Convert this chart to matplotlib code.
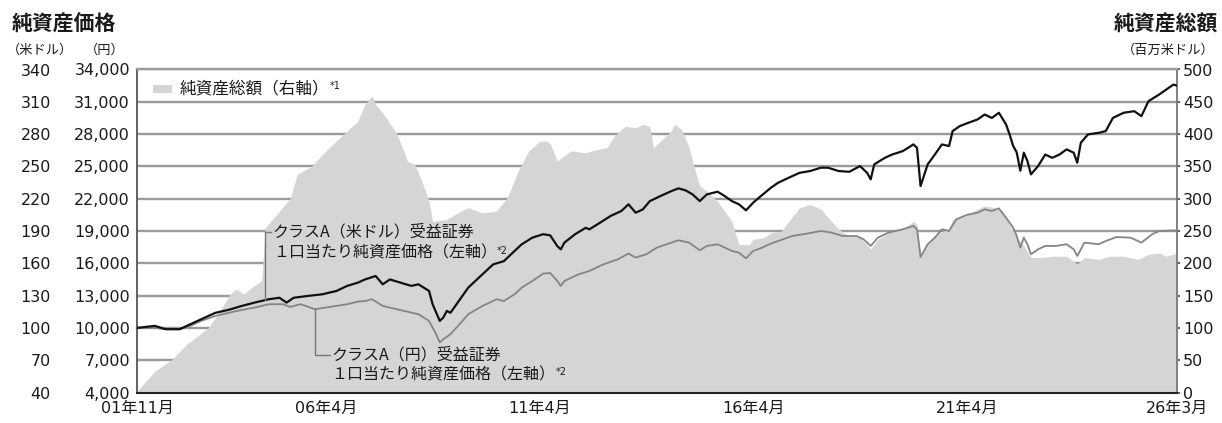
import matplotlib
matplotlib.use('Agg')
import matplotlib.pyplot as plt
import numpy as np
from matplotlib.transforms import IdentityTransform
from matplotlib.patches import Rectangle

CJK = ['Noto Sans CJK JP', 'DejaVu Sans']
NUM = ['DejaVu Sans', 'Noto Sans CJK JP']
plt.rcParams['font.family'] = CJK

# ---------------- data ----------------
tick_dates = ['2001-11', '2006-04', '2011-04', '2016-04', '2021-04', '2026-03']
tick_labels = ['01年11月', '06年4月', '11年4月', '16年4月', '21年4月', '26年3月']

usd_left_ticks = list(range(40, 341, 30))
jpy_left_ticks = list(range(4000, 34001, 3000))
right_ticks = list(range(0, 501, 50))

usd_dates = ['2001-11', '2002-04', '2002-07', '2002-11', '2003-02', '2003-05', '2003-09', '2004-01',
             '2004-04', '2004-08', '2004-12', '2005-03', '2005-05', '2005-07', '2005-11', '2006-03',
             '2006-07', '2006-10', '2007-01', '2007-03', '2007-06', '2007-08', '2007-10', '2008-01',
             '2008-04', '2008-06', '2008-09', '2008-10', '2008-12', '2009-01', '2009-02', '2009-03',
             '2009-06', '2009-08', '2009-12', '2010-03', '2010-06', '2010-09', '2010-11', '2011-02',
             '2011-05', '2011-07', '2011-09', '2011-10', '2011-11', '2012-02', '2012-05', '2012-06',
             '2012-09', '2012-12', '2013-03', '2013-05', '2013-07', '2013-09', '2013-11', '2014-02',
             '2014-05', '2014-07', '2014-09', '2014-11', '2015-01', '2015-03', '2015-06', '2015-08',
             '2015-10', '2015-12', '2016-02', '2016-04', '2016-06', '2016-09', '2016-11', '2017-02',
             '2017-05', '2017-08', '2017-11', '2018-01', '2018-04', '2018-07', '2018-10', '2018-12',
             '2019-01', '2019-02', '2019-05', '2019-07', '2019-10', '2020-01', '2020-02', '2020-03',
             '2020-05', '2020-07', '2020-09', '2020-11', '2020-12', '2021-02', '2021-04', '2021-07',
             '2021-09', '2021-11', '2022-01', '2022-03', '2022-04', '2022-05', '2022-06', '2022-07',
             '2022-08', '2022-09', '2022-10', '2022-12', '2023-02', '2023-04', '2023-06', '2023-08',
             '2023-10', '2023-11', '2023-12', '2024-02', '2024-05', '2024-07', '2024-09', '2024-12',
             '2025-03', '2025-05', '2025-07', '2025-10', '2025-12', '2026-02', '2026-03']
usd_nav = [100, 101.9, 98.8, 98.8, 103.4, 108, 114, 117,
           120, 123.5, 126.6, 128, 123.5, 128, 129.7, 131.2,
           134.3, 139, 142, 145, 148.2, 140.5, 145, 142,
           139, 140.5, 134.3, 122, 106.5, 109.6, 115.8, 114,
           128, 137.4, 149.8, 159, 162, 171.4, 177.6, 183.8,
           187, 186, 176, 173, 179.2, 187, 193, 191.5,
           197.7, 204, 208.6, 214.8, 207, 210, 217.8, 222.5,
           227, 229.6, 227.8, 224, 217.8, 224, 226.5, 222.5,
           217.8, 214.8, 209.2, 216.3, 222, 230.2, 234.8, 239.5,
           244, 245.7, 248.8, 248.8, 245.7, 245, 250.3, 244,
           238, 251.9, 258, 261, 264.2, 270.4, 267.3, 231.8,
           251.9, 261, 270.4, 268.9, 282.8, 287.4, 290, 293.6,
           298.2, 295, 299.8, 289, 279.7, 269, 263, 246,
           262.7, 255, 242.6, 250.3, 261, 258, 261, 265.8,
           262.7, 253.4, 272, 279.7, 281.2, 282.8, 295, 299.8,
           301.3, 296.7, 310.6, 316.8, 321.4, 326, 325]

jpy_dates = ['2001-11', '2002-04', '2002-07', '2002-11', '2003-02', '2003-05', '2003-09', '2004-01',
             '2004-04', '2004-08', '2004-12', '2005-04', '2005-06', '2005-09', '2006-01', '2006-04',
             '2006-10', '2007-01', '2007-03', '2007-05', '2007-08', '2007-12', '2008-04', '2008-06',
             '2008-09', '2008-11', '2008-12', '2009-01', '2009-03', '2009-06', '2009-08', '2009-12',
             '2010-04', '2010-06', '2010-09', '2010-11', '2011-02', '2011-05', '2011-07', '2011-09',
             '2011-10', '2011-11', '2012-03', '2012-06', '2012-10', '2013-02', '2013-05', '2013-07',
             '2013-10', '2014-01', '2014-05', '2014-07', '2014-10', '2015-01', '2015-03', '2015-06',
             '2015-10', '2015-12', '2016-02', '2016-04', '2016-06', '2016-09', '2016-11', '2017-03',
             '2017-07', '2017-11', '2018-02', '2018-05', '2018-09', '2018-11', '2019-01', '2019-03',
             '2019-06', '2019-10', '2020-01', '2020-02', '2020-03', '2020-05', '2020-07', '2020-09',
             '2020-11', '2021-01', '2021-04', '2021-07', '2021-09', '2021-11', '2022-01', '2022-03',
             '2022-05', '2022-06', '2022-07', '2022-08', '2022-09', '2022-10', '2022-12', '2023-02',
             '2023-05', '2023-08', '2023-10', '2023-11', '2024-01', '2024-05', '2024-07', '2024-10',
             '2025-02', '2025-05', '2025-08', '2025-10', '2026-03']
jpy_nav = [10000, 10000, 9880, 9880, 10190, 10650, 11110, 11420,
           11640, 11890, 12200, 12200, 11950, 12200, 11730, 11890,
           12200, 12440, 12500, 12660, 12040, 11730, 11420, 11270,
           10650, 9410, 8640, 8950, 9410, 10500, 11270, 12040,
           12660, 12500, 13120, 13740, 14360, 15040, 15100, 14360,
           13900, 14360, 14980, 15290, 15910, 16370, 16900, 16530,
           16840, 17460, 17920, 18140, 17920, 17210, 17610, 17770,
           17150, 16990, 16460, 17150, 17380, 17830, 18070, 18540,
           18750, 19000, 18850, 18540, 18540, 18230, 17610, 18380,
           18850, 19160, 19470, 19160, 16590, 17770, 18380, 19160,
           19000, 20080, 20500, 20700, 21010, 20860, 21100, 20240,
           19310, 18540, 17460, 18380, 17770, 16840, 17300, 17610,
           17610, 17770, 17300, 16680, 17920, 17770, 18070, 18440,
           18380, 17920, 18690, 19000, 19060]

net_dates = ['2001-11', '2002-04', '2002-09', '2003-01', '2003-07', '2003-10', '2004-01', '2004-02',
             '2004-03', '2004-05', '2004-07', '2004-10', '2004-11', '2005-06', '2005-08', '2005-12',
             '2006-04', '2006-09', '2007-01', '2007-03', '2007-05', '2007-06', '2007-09', '2007-12',
             '2008-03', '2008-05', '2008-07', '2008-09', '2008-10', '2009-02', '2009-06', '2009-08',
             '2009-12', '2010-04', '2010-07', '2010-10', '2011-01', '2011-04', '2011-06', '2011-07',
             '2011-09', '2011-10', '2012-01', '2012-05', '2012-08', '2012-11', '2013-01', '2013-04',
             '2013-07', '2013-09', '2013-11', '2013-12', '2014-02', '2014-05', '2014-06', '2014-08',
             '2014-10', '2014-12', '2015-01', '2015-03', '2015-06', '2015-10', '2015-12', '2016-03',
             '2016-04', '2016-07', '2016-09', '2016-12', '2017-02', '2017-05', '2017-08', '2017-11',
             '2018-01', '2018-04', '2018-06', '2018-10', '2019-01', '2019-03', '2019-06', '2019-10',
             '2020-01', '2020-02', '2020-03', '2020-05', '2020-08', '2020-11', '2020-12', '2021-04',
             '2021-07', '2021-09', '2021-12', '2022-02', '2022-04', '2022-06', '2022-08', '2022-10',
             '2023-01', '2023-04', '2023-08', '2023-11', '2024-01', '2024-05', '2024-08', '2024-12',
             '2025-04', '2025-07', '2025-10', '2025-12', '2026-03']
net_assets = [2, 33, 52, 75, 100, 124, 151, 157,
              160, 152, 162, 173, 255, 300, 338, 350,
              374, 400, 420, 446, 459, 446, 425, 400,
              358, 353, 327, 296, 265, 268, 281, 286,
              278, 281, 302, 343, 374, 389, 389, 385,
              358, 363, 374, 371, 376, 379, 397, 412,
              410, 415, 412, 379, 389, 405, 415, 407,
              379, 338, 320, 312, 296, 265, 229, 229,
              237, 240, 247, 250, 265, 286, 291, 284,
              271, 253, 245, 240, 222, 237, 247, 253,
              265, 260, 214, 232, 247, 253, 268, 275,
              284, 289, 286, 281, 260, 240, 227, 209,
              209, 211, 211, 199, 209, 206, 211, 211,
              206, 214, 216, 211, 216]


def month_index(s):
    y, m = map(int, s.split('-'))
    return (y * 12 + m - 1) - (2001 * 12 + 10)


W, H = 1222, 423
fig = plt.figure(figsize=(W / 100, H / 100), dpi=100)
L, R, T, B = 137, 1177, 69.5, 392.5
rect = [L / W, (H - B) / H, (R - L) / W, (B - T) / H]

GRID = '#9a9a9a'
FILL = '#d5d5d5'
TXT = '#1a1a1a'

# base axis: net assets (right axis) + gridlines
ax = fig.add_axes(rect)
xs_net = [month_index(d) for d in net_dates]
xmax = month_index(tick_dates[-1])
ax.set_xlim(0, xmax)
ax.set_ylim(0, 500)
ax.set_axisbelow(True)
ax.yaxis.grid(True, color=GRID, lw=1.7)
ax.fill_between(xs_net, 0, net_assets, color=FILL, lw=0, zorder=1)
ax.set_xticks([month_index(d) for d in tick_dates], tick_labels, fontfamily=NUM, fontsize=11.5, color=TXT)
ax.tick_params(axis='x', length=0, pad=6)
ax.spines['top'].set_color(GRID)
ax.spines['top'].set_linewidth(1.7)
ax.spines['bottom'].set_color('#222')
ax.spines['bottom'].set_linewidth(1.5)
ax.spines['left'].set_color('#555')
ax.spines['left'].set_linewidth(1.3)
ax.spines['right'].set_color('#777')
ax.spines['right'].set_linewidth(1.3)

# JPY axis (gray line)
ax_j = ax.twinx()
ax_j.set_ylim(4000, 34000)
ax_j.yaxis.tick_left()
ax_j.set_yticks(jpy_left_ticks, [f'{v:,}' for v in jpy_left_ticks], fontfamily=NUM, fontsize=11.5, color=TXT)
ax_j.tick_params(axis='y', length=0, pad=5)
for s in ax_j.spines.values():
    s.set_visible(False)
xs_j = [month_index(d) for d in jpy_dates]
ax_j.plot(xs_j, jpy_nav, color='#858585', lw=1.3, zorder=3)

# USD axis (black line)
ax_u = ax.twinx()
ax_u.set_ylim(40, 340)
ax_u.yaxis.tick_left()
ax_u.set_yticks(usd_left_ticks, [str(v) for v in usd_left_ticks], fontfamily=NUM, fontsize=11.5, color=TXT)
ax_u.tick_params(axis='y', length=0, pad=62)
for s in ax_u.spines.values():
    s.set_visible(False)
xs_u = [month_index(d) for d in usd_dates]
ax_u.plot(xs_u, usd_nav, color='#111', lw=1.6, zorder=4)

# right axis of the base (set after twinx, which moves ticks left)
ax.yaxis.tick_right()
ax.set_yticks(right_ticks, [str(v) for v in right_ticks], fontfamily=NUM, fontsize=11.5, color=TXT)
ax.tick_params(axis='y', which='both', left=False, labelleft=False, right=True, labelright=True,
               direction='out', length=2.5, width=1.2, color='#444', pad=2)

# annotations (leaders)
lead_c = '#777'
mu = 36
yu0 = float(np.interp(mu, xs_u, usd_nav))
ax_u.plot([mu, mu, mu + 1.6], [yu0, 189, 189], color=lead_c, lw=1.0, zorder=5)
t_u1 = ax_u.text(mu + 2.1, 189, 'クラスA（米ドル）受益証券', fontsize=11.5, va='center', ha='left', color=TXT, zorder=6)
t_u2 = ax_u.text(mu + 2.1, 169.5, '１口当たり純資産価格（左軸）', fontsize=11.5, va='center', ha='left', color=TXT, zorder=6)

mj = 50
yj0 = float(np.interp(mj, xs_j, jpy_nav))
ax_j.plot([mj, mj, mj + 4.2], [yj0, 7480, 7480], color=lead_c, lw=1.0, zorder=5)
t_j1 = ax_j.text(mj + 4.5, 7480, 'クラスA（円）受益証券', fontsize=11.5, va='center', ha='left', color=TXT, zorder=6)
t_j2 = ax_j.text(mj + 4.5, 5630, '１口当たり純資産価格（左軸）', fontsize=11.5, va='center', ha='left', color=TXT, zorder=6)

# legend (manual)
ax_u.add_patch(Rectangle(((153 - L) / (R - L), (B - 93) / (B - T)), 19 / (R - L), 8 / (B - T),
                         transform=ax_u.transAxes, color=FILL, lw=0, zorder=6))
t_leg = ax_u.text((180 - L) / (R - L), (B - 88.5) / (B - T), '純資産総額（右軸）', transform=ax_u.transAxes,
                  fontsize=12, va='center', ha='left', color=TXT, zorder=6)

# titles
fig.text(12 / W, 1 - 24 / H, '純資産価格', fontsize=15, fontweight='bold', ha='left', va='center', color=TXT)
fig.text(40 / W, 1 - 50 / H, '（米ドル）', fontsize=9.5, ha='center', va='center', color=TXT)
fig.text(105 / W, 1 - 50 / H, '（円）', fontsize=9.5, ha='center', va='center', color=TXT)
fig.text(1218 / W, 1 - 24 / H, '純資産総額', fontsize=15, fontweight='bold', ha='right', va='center', color=TXT)
fig.text(1215 / W, 1 - 50 / H, '（百万米ドル）', fontsize=9.5, ha='right', va='center', color=TXT)

# superscripts after measuring texts
fig.canvas.draw()
for t, lab in [(t_u2, '*2'), (t_j2, '*2'), (t_leg, '*1')]:
    bb = t.get_window_extent()
    fig.text(bb.x1 + 0.5, bb.y1 - 1, lab, fontsize=7, ha='left', va='top', color=TXT,
             transform=IdentityTransform(), family=NUM)

fig.savefig('out.png', dpi=100)
